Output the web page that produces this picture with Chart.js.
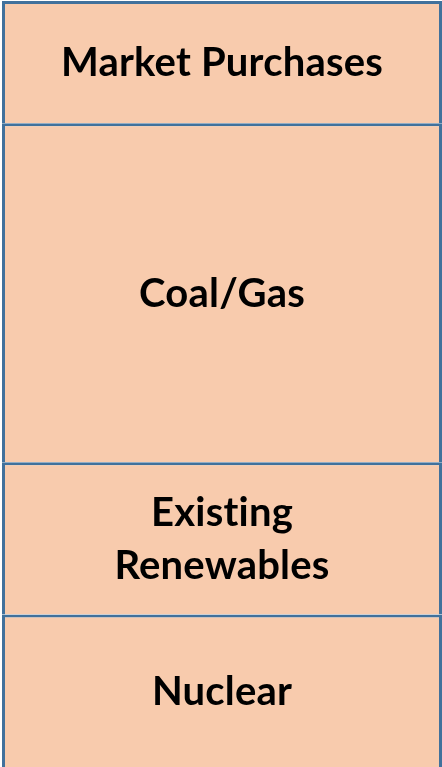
<!DOCTYPE html>
<html>
<head>
<meta charset="utf-8">
<script src="https://cdn.jsdelivr.net/npm/chart.js@4/dist/chart.umd.min.js"></script>
<style>
    body { margin: 0; background: #fff; }
    #wrap { width: 442px; height: 767px; position: relative; }
</style>
</head>
<body>
<div id="wrap"><canvas id="supplyChart"></canvas></div>
<script>
// bottom to top
const sources = ['Nuclear', 'Existing Renewables', 'Coal/Gas', 'Market Purchases'];
const sourceLines = [['Nuclear'], ['Existing', 'Renewables'], ['Coal/Gas'], ['Market Purchases']];
const sourceValues = [152, 152, 338, 122];
const categories = ['Supply'];

const fillColor = '#F8CBAD';
const edgeColor = '#41719C';

// write each source name in the middle of its block
const blockLabels = {
    id: 'blockLabels',
    afterDatasetsDraw(chart) {
        const ctx = chart.ctx;
        ctx.save();
        ctx.fillStyle = '#000';
        ctx.font = 'bold 40px Lato';
        ctx.letterSpacing = '0.2px'; // keeps "ti" from joining
        ctx.textAlign = 'center';
        ctx.textBaseline = 'alphabetic';
        chart.data.datasets.forEach((ds, i) => {
            const bar = chart.getDatasetMeta(i).data[0];
            const mid = (bar.y + bar.base) / 2;
            const lines = sourceLines[i];
            const step = 53;
            lines.forEach((line, j) => {
                const y = mid + 14 + (j - (lines.length - 1) / 2) * step;
                ctx.fillText(line, bar.x, y);
            });
        });
        ctx.restore();
    }
};

const total = sourceValues.reduce((a, b) => a + b, 0);

new Chart(document.getElementById('supplyChart'), {
    type: 'bar',
    data: {
        labels: categories,
        datasets: sources.map((name, i) => ({
            label: name,
            data: [sourceValues[i]],
            backgroundColor: fillColor,
            borderColor: edgeColor,
            borderWidth: 3,
            borderSkipped: 'start',
            inflateAmount: 0,
            barPercentage: 1,
            categoryPercentage: 1
        }))
    },
    options: {
        responsive: true,
        maintainAspectRatio: false,
        animation: false,
        layout: { padding: { left: 2, right: 0, top: 1, bottom: 0 } },
        plugins: {
            legend: { display: false },
            tooltip: { enabled: false }
        },
        scales: {
            x: { stacked: true, display: false },
            y: { stacked: true, display: false, min: 0, max: total }
        }
    },
    plugins: [blockLabels]
});
</script>
</body>
</html>
